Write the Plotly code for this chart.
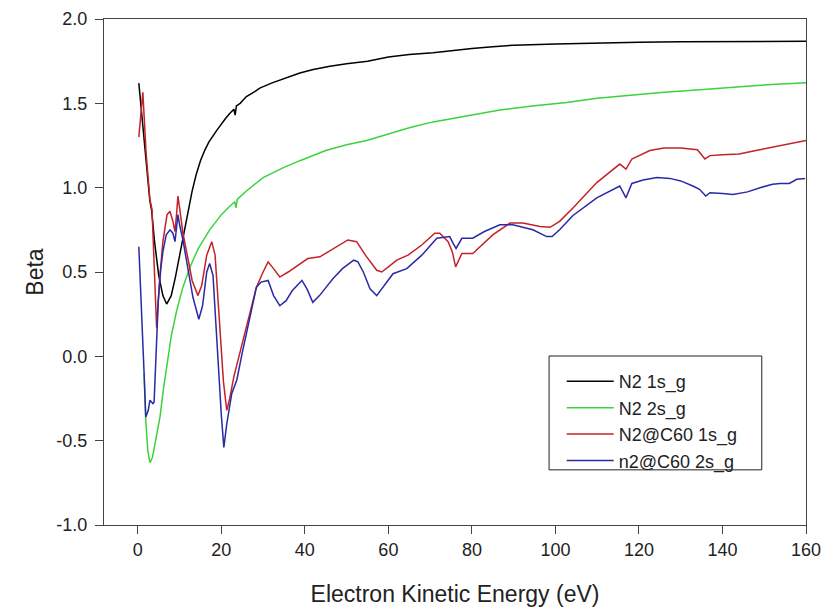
import plotly.graph_objects as go

# ---------------- data ----------------
x_n2_1s = [0.24, 1, 2, 2.87, 3.3, 4, 5, 6, 6.9, 8, 9, 10, 11, 12, 13, 14, 15, 16, 17,
           18.9, 20, 21, 22, 23, 23.3, 23.6, 24.5, 26, 28, 29.2, 32, 35, 38.8, 42, 46,
           50, 55, 60, 65, 70.7, 76, 80, 85, 90, 100, 110, 120, 130, 140, 150, 160]
y_n2_1s = [1.62, 1.42, 1.15, 0.925, 0.866, 0.68, 0.48, 0.36, 0.31, 0.36, 0.47, 0.6, 0.73,
           0.87, 0.98, 1.08, 1.16, 1.22, 1.27, 1.34, 1.38, 1.41, 1.44, 1.465, 1.43, 1.485,
           1.5, 1.54, 1.57, 1.59, 1.62, 1.645, 1.68, 1.70, 1.72, 1.735, 1.75, 1.775, 1.79,
           1.80, 1.815, 1.825, 1.835, 1.845, 1.852, 1.858, 1.862, 1.865, 1.866, 1.868, 1.868]

x_n2_2s = [1.5, 1.9, 2.4, 2.9, 3.5, 4.2, 5.3, 6.1, 6.9, 8, 9.3, 10.8, 12.5, 14.5, 17.2,
           20, 22, 23.2, 23.5, 23.8, 26, 30, 35, 38.8, 45, 50, 54.8, 60, 65, 70.7, 80,
           86.7, 95, 102.7, 110, 118.6, 126, 134.6, 142, 150.6, 160]
y_n2_2s = [-0.1, -0.38, -0.56, -0.63, -0.6, -0.5, -0.36, -0.2, -0.065, 0.12, 0.27, 0.41,
           0.53, 0.64, 0.75, 0.84, 0.89, 0.915, 0.88, 0.93, 0.98, 1.06, 1.12, 1.16, 1.22,
           1.255, 1.28, 1.32, 1.355, 1.39, 1.43, 1.46, 1.485, 1.505, 1.53, 1.55, 1.565,
           1.58, 1.595, 1.61, 1.622]

x_c60_1s = [0.24, 1.2, 2, 2.9, 3.4, 4.5, 5.2, 6.0, 7.0, 7.7, 8.4, 8.9, 9.3, 9.6, 10.0,
            10.8, 12, 13, 14.4, 15.3, 16.5, 17.7, 18.5, 19.5, 20.5, 21.3, 22, 23, 25, 27,
            28.4, 30, 31.2, 32.5, 34, 36, 38.8, 40.7, 43.6, 47, 50.3, 52.4, 54.5, 57.2,
            58.4, 60, 62, 64.7, 68, 71.1, 72.3, 74.3, 75.3, 76.1, 77.6, 80.2, 85, 89.1,
            92.2, 96.3, 98.7, 101, 104.2, 109.9, 115.4, 116.9, 118.3, 122.6, 126, 130,
            134, 135.8, 137, 140, 144, 148, 152, 156, 160]
y_c60_1s = [1.30, 1.565, 1.2, 0.93, 0.87, 0.17, 0.45, 0.68, 0.84, 0.86, 0.80, 0.74, 0.85,
            0.95, 0.88, 0.73, 0.58, 0.45, 0.36, 0.42, 0.6, 0.68, 0.6, 0.2, -0.15, -0.32,
            -0.25, -0.12, 0.08, 0.28, 0.41, 0.5, 0.56, 0.52, 0.47, 0.5, 0.55, 0.58, 0.59,
            0.64, 0.69, 0.68, 0.6, 0.51, 0.50, 0.53, 0.57, 0.60, 0.66, 0.73, 0.73, 0.68,
            0.62, 0.53, 0.61, 0.61, 0.72, 0.79, 0.79, 0.77, 0.765, 0.8, 0.88, 1.03, 1.14,
            1.11, 1.17, 1.22, 1.235, 1.235, 1.225, 1.17, 1.19, 1.195, 1.20, 1.22, 1.24,
            1.26, 1.28]

x_c60_2s = [0.24, 0.9, 1.5, 1.9, 2.5, 2.9, 3.3, 3.6, 3.9, 4.5, 4.9, 5.5, 6, 6.8, 7.7,
            8.4, 8.9, 9.3, 9.6, 10, 10.8, 12, 13.2, 14.6, 15.5, 16.5, 17.2, 18, 19, 20,
            20.6, 21.3, 22.5, 23.7, 25, 27, 28.4, 29.5, 31.2, 32.5, 34, 35.5, 37, 39.3,
            40.5, 41.9, 43.5, 46.7, 49, 51.7, 52.7, 54, 55.6, 57.2, 59, 61.1, 64.4, 68,
            71.6, 74.7, 75.5, 76.2, 77.6, 80.2, 83, 86.7, 89.8, 94.6, 97.9, 99.2, 101,
            104.2, 109.9, 115.4, 116.9, 118.3, 121, 124.3, 127.4, 130, 132.9, 134.5, 136,
            137, 140, 142.5, 146, 149, 152, 153.8, 156, 157.8, 159.8]
y_c60_2s = [0.65, 0.3, -0.1, -0.36, -0.32, -0.26, -0.27, -0.28, -0.27, 0.15, 0.33, 0.52,
            0.62, 0.72, 0.75, 0.73, 0.68, 0.77, 0.84, 0.78, 0.69, 0.52, 0.35, 0.22, 0.3,
            0.5, 0.55, 0.48, 0.05, -0.35, -0.54, -0.4, -0.22, -0.14, 0.02, 0.26, 0.41,
            0.44, 0.45, 0.36, 0.30, 0.33, 0.39, 0.45, 0.40, 0.32, 0.36, 0.46, 0.52, 0.57,
            0.56, 0.50, 0.40, 0.36, 0.42, 0.49, 0.52, 0.6, 0.70, 0.71, 0.67, 0.64, 0.70,
            0.70, 0.74, 0.78, 0.78, 0.75, 0.71, 0.71, 0.75, 0.835, 0.94, 1.01, 0.94, 1.025,
            1.045, 1.06, 1.055, 1.04, 1.01, 0.99, 0.95, 0.97, 0.965, 0.96, 0.975, 1.00,
            1.02, 1.025, 1.025, 1.05, 1.055]

series_names = ["N2 1s_g", "N2 2s_g", "N2@C60 1s_g", "n2@C60 2s_g"]
x_ticks = [0, 20, 40, 60, 80, 100, 120, 140, 160]
y_ticks = [-1.0, -0.5, 0.0, 0.5, 1.0, 1.5, 2.0]
y_tick_labels = ["-1.0", "-0.5", "0.0", "0.5", "1.0", "1.5", "2.0"]

colors = ["#000000", "#3cd23c", "#c42228", "#2a2aa6"]
FONT = "Liberation Sans, Arial, sans-serif"

fig = go.Figure()
for xs, ys, name, col in [
    (x_n2_1s, y_n2_1s, series_names[0], colors[0]),
    (x_n2_2s, y_n2_2s, series_names[1], colors[1]),
    (x_c60_1s, y_c60_1s, series_names[2], colors[2]),
    (x_c60_2s, y_c60_2s, series_names[3], colors[3]),
]:
    fig.add_trace(go.Scatter(x=xs, y=ys, mode="lines", name=name,
                             line=dict(color=col, width=1.5)))

fig.update_layout(
    width=822, height=607,
    margin=dict(l=104, r=16, t=19, b=82, autoexpand=False),
    paper_bgcolor="white", plot_bgcolor="white",
    font=dict(family=FONT, color="#222222"),
    showlegend=True,
    legend=dict(x=0.652, y=0.320, xanchor="left", yanchor="top",
                bgcolor="rgba(0,0,0,0)", borderwidth=0,
                font=dict(size=18, family=FONT, color="#222222"),
                itemwidth=47, tracegroupgap=0),
    shapes=[dict(type="rect", xref="paper", yref="paper",
                 x0=0.634, x1=0.937, y0=0.109, y1=0.334,
                 line=dict(color="#222222", width=1), fillcolor="rgba(0,0,0,0)")],
)
fig.update_xaxes(range=[-8.1, 160], tickvals=x_ticks, ticks="outside", ticklen=8,
                 tickcolor="#444444", showline=True, linecolor="#444444", linewidth=1,
                 mirror=True, showgrid=False, zeroline=False,
                 tickfont=dict(size=18, family=FONT, color="#222222"),
                 title=dict(text="Electron Kinetic Energy (eV)", standoff=27,
                            font=dict(size=23, family=FONT, color="#222222")),
                 automargin=False)
fig.update_yaxes(range=[-1, 2], tickvals=y_ticks, ticktext=y_tick_labels,
                 ticks="outside", ticklen=8, tickcolor="#444444", showline=True,
                 linecolor="#444444", linewidth=1, mirror=True, showgrid=False,
                 zeroline=False, ticklabelstandoff=4,
                 tickfont=dict(size=18, family=FONT, color="#222222"),
                 title=dict(text="Beta", standoff=6,
                            font=dict(size=23, family=FONT, color="#222222")),
                 automargin=False)

fig.write_html(
    "out.html",
    config={"displayModeBar": False},
    post_script="document.body.style.margin='0';document.body.style.overflow='hidden';",
)
